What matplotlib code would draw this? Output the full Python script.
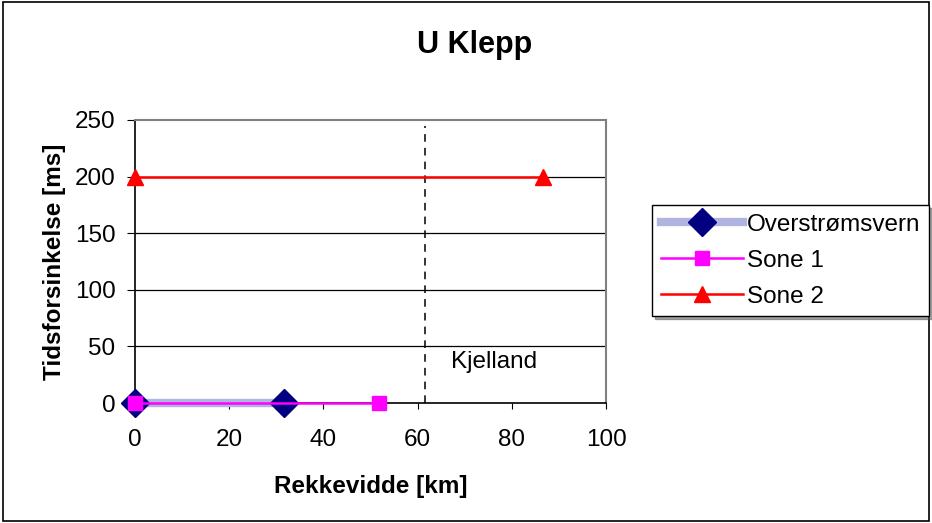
import matplotlib
matplotlib.use('Agg')
import matplotlib.pyplot as plt
from matplotlib.patches import Rectangle

plt.rcParams['font.family'] = ['Liberation Sans', 'DejaVu Sans']

# Data
overstrom_x = [0, 31.7]
overstrom_y = [0, 0]
sone1_x = [0, 51.7]
sone1_y = [0, 0]
sone2_x = [0, 86.6]
sone2_y = [200, 200]
kjelland_km = 61.5
xticks = [0, 20, 40, 60, 80, 100]
yticks = [0, 50, 100, 150, 200, 250]

fig = plt.figure(figsize=(9.32, 5.23), dpi=100)
ax = fig.add_axes([135 / 932, 1 - 403 / 523, (606 - 135) / 932, (403 - 120) / 523])

# horizontal gridlines
for y in yticks[1:-1]:
    ax.axhline(y, color='black', lw=0.9, zorder=1)

# Kjelland marker line
ax.plot([kjelland_km, kjelland_km], [0, 245], color='black', lw=1.1, ls=(0, (5, 4)), zorder=2)
ax.text(kjelland_km + 5.5, 36, 'Kjelland', fontsize=17.5, va='center', ha='left')

ax.plot(sone2_x, sone2_y, color='red', lw=1.8, marker='^', ms=12,
        markerfacecolor='red', markeredgecolor='red', label='Sone 2', zorder=3,
        clip_on=False)
ax.plot(overstrom_x, overstrom_y, color='#b0b4e0', lw=6, marker='D', ms=14,
        markerfacecolor='#000080', markeredgecolor='#000080', label='Overstrømsvern', zorder=3,
        clip_on=False)
ax.plot(sone1_x, sone1_y, color='#ff00ff', lw=1.8, marker='s', ms=10,
        markerfacecolor='#ff00ff', markeredgecolor='#ff00ff', label='Sone 1', zorder=4,
        clip_on=False)

ax.set_xlim(0, 100)
ax.set_ylim(0, 250)
ax.set_xticks(xticks)
ax.set_yticks(yticks)
ax.tick_params(axis='both', labelsize=17.5, direction='out', color='black')
ax.tick_params(axis='x', length=4, pad=15)
ax.tick_params(axis='y', length=6, pad=8)
for s in ['top', 'right']:
    ax.spines[s].set_color('#808080')
    ax.spines[s].set_linewidth(1.5)
for s in ['left', 'bottom']:
    ax.spines[s].set_color('black')
    ax.spines[s].set_linewidth(1.2)

fig.text(475 / 932, 1 - 45 / 523, 'U Klepp', fontsize=22, fontweight='bold', ha='center', va='center')
ax.set_xlabel('Rekkevidde [km]', fontsize=17.5, fontweight='bold', labelpad=17)
ax.set_ylabel('Tidsforsinkelse [ms]', fontsize=17.5, fontweight='bold', labelpad=6)

handles, labels = ax.get_legend_handles_labels()
order = [labels.index('Overstrømsvern'), labels.index('Sone 1'), labels.index('Sone 2')]
leg = fig.legend([handles[i] for i in order], [labels[i] for i in order],
                 loc='upper left', bbox_to_anchor=(652 / 932, 1 - 205 / 523),
                 fontsize=17.5, frameon=True, fancybox=False, shadow=True,
                 handlelength=3.4, borderpad=0.35, labelspacing=0.58, handletextpad=0.15,
                 borderaxespad=0)
leg.get_frame().set_edgecolor('black')
leg.get_frame().set_linewidth(1.0)

# outer chart border
fig.patches.append(Rectangle((3 / 932, 2 / 523), 1 - 6 / 932, 1 - 4 / 523, transform=fig.transFigure,
                             fill=False, edgecolor='black', lw=1.2))

fig.savefig('out.png', dpi=100)
